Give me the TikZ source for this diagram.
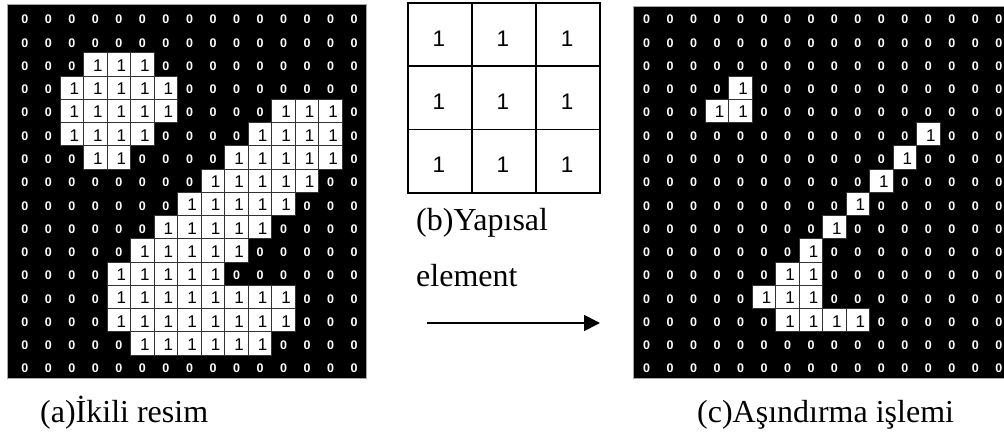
\documentclass[tikz,border=0pt]{standalone}
\usepackage{fontspec}
\setmainfont{Liberation Serif}
\newfontfamily\digitfont{Liberation Sans}
\usetikzlibrary{arrows.meta}
\begin{document}
\begin{tikzpicture}[x=1pt,y=-1pt,
  gridbg/.style={fill=black,draw=gray!70,line width=1pt},
  zerotxt/.style={text=white,font=\digitfont\bfseries\fontsize{12.5}{12.5}\selectfont,inner sep=0pt},
  onecell/.style={fill=white,draw=black!80,line width=1pt,inner sep=0pt},
  onetxt/.style={text=black,font=\digitfont\fontsize{17}{17}\selectfont,inner sep=0pt},
  capt/.style={font=\fontsize{32}{32}\selectfont,inner sep=0pt,anchor=base west},
  secell/.style={draw=black,line width=1.8pt,inner sep=0pt,minimum width=64pt,minimum height=63.3pt},
  setxt/.style={font=\digitfont\fontsize{22.5}{22.5}\selectfont,inner sep=0pt}
]
\clip (0,0) rectangle (1004,435);
% ---------- left grid (a) ----------
\node[gridbg,minimum width=359pt,minimum height=374pt,inner sep=0pt,anchor=north west] (Lbg) at (7,4) {};
\foreach \r/\vals in {
  0/{0,0,0,0,0,0,0,0,0,0,0,0,0,0,0},
  1/{0,0,0,0,0,0,0,0,0,0,0,0,0,0,0},
  2/{0,0,0,1,1,1,0,0,0,0,0,0,0,0,0},
  3/{0,0,1,1,1,1,1,0,0,0,0,0,0,0,0},
  4/{0,0,1,1,1,1,1,0,0,0,0,1,1,1,0},
  5/{0,0,1,1,1,1,0,0,0,0,1,1,1,1,0},
  6/{0,0,0,1,1,0,0,0,0,1,1,1,1,1,0},
  7/{0,0,0,0,0,0,0,0,1,1,1,1,1,0,0},
  8/{0,0,0,0,0,0,0,1,1,1,1,1,0,0,0},
  9/{0,0,0,0,0,0,1,1,1,1,1,0,0,0,0},
  10/{0,0,0,0,0,1,1,1,1,1,0,0,0,0,0},
  11/{0,0,0,0,1,1,1,1,1,0,0,0,0,0,0},
  12/{0,0,0,0,1,1,1,1,1,1,1,1,0,0,0},
  13/{0,0,0,0,1,1,1,1,1,1,1,1,0,0,0},
  14/{0,0,0,0,0,1,1,1,1,1,1,0,0,0,0},
  15/{0,0,0,0,0,0,0,0,0,0,0,0,0,0,0}}{
  \foreach \v [count=\ci from 0] in \vals {
    \ifnum\v=1
      \node[onecell,minimum width=23.53pt,minimum height=23.25pt] (L-\r-\ci) at ({13+23.53*\ci+11.77},{6.5+23.25*\r+11.6}) {};
      \node[onetxt] (LT-\r-\ci) at ([xshift=2.5pt,yshift=-1pt]L-\r-\ci.center) {1};
    \else
      \node[zerotxt] (LZ-\r-\ci) at ({13+23.53*\ci+11.77},{6.5+23.25*\r+13.2}) {0};
    \fi
  }
}
% ---------- right grid (c) ----------
\node[gridbg,minimum width=380pt,minimum height=372pt,inner sep=0pt,anchor=north west] (Rbg) at (633,6) {};
\foreach \r/\vals in {
  0/{0,0,0,0,0,0,0,0,0,0,0,0,0,0,0,0},
  1/{0,0,0,0,0,0,0,0,0,0,0,0,0,0,0,0},
  2/{0,0,0,0,0,0,0,0,0,0,0,0,0,0,0,0},
  3/{0,0,0,0,1,0,0,0,0,0,0,0,0,0,0,0},
  4/{0,0,0,1,1,0,0,0,0,0,0,0,0,0,0,0},
  5/{0,0,0,0,0,0,0,0,0,0,0,0,1,0,0,0},
  6/{0,0,0,0,0,0,0,0,0,0,0,1,0,0,0,0},
  7/{0,0,0,0,0,0,0,0,0,0,1,0,0,0,0,0},
  8/{0,0,0,0,0,0,0,0,0,1,0,0,0,0,0,0},
  9/{0,0,0,0,0,0,0,0,1,0,0,0,0,0,0,0},
  10/{0,0,0,0,0,0,0,1,0,0,0,0,0,0,0,0},
  11/{0,0,0,0,0,0,1,1,0,0,0,0,0,0,0,0},
  12/{0,0,0,0,0,1,1,1,0,0,0,0,0,0,0,0},
  13/{0,0,0,0,0,0,1,1,1,1,0,0,0,0,0,0},
  14/{0,0,0,0,0,0,0,0,0,0,0,0,0,0,0,0},
  15/{0,0,0,0,0,0,0,0,0,0,0,0,0,0,0,0}}{
  \foreach \v [count=\ci from 0] in \vals {
    \ifnum\v=1
      \node[onecell,minimum width=23.47pt,minimum height=23.25pt] (R-\r-\ci) at ({635+23.47*\ci+11.7},{6.5+23.25*\r+11.6}) {};
      \node[onetxt] (RT-\r-\ci) at ([xshift=2.5pt,yshift=-1pt]R-\r-\ci.center) {1};
    \else
      \node[zerotxt] (RZ-\r-\ci) at ({635+23.47*\ci+11.7},{6.5+23.25*\r+13.2}) {0};
    \fi
  }
}
% ---------- structuring element (b) ----------
\foreach \r in {0,1,2}{
  \foreach \c in {0,1,2}{
    \node[secell] (S-\r-\c) at ({408+64*\c+32},{3+63.3*\r+31.65}) {};
    \node[setxt] (ST-\r-\c) at ([xshift=-1pt,yshift=-4pt]S-\r-\c.center) {1};
  }
}
\node[capt] (capb) at (416,231) {(b)Yapısal};
\node[capt] (cape) at (416,287) {element};
\coordinate (arrS) at (427,323);
\coordinate (arrE) at (600,323);
\draw[line width=1.8pt,-{Triangle[length=16pt,width=16pt]}] (arrS) -- (arrE);
% ---------- captions ----------
\node[capt] (capa) at (40,423) {(a)İkili resim};
\node[capt] (capc) at (697,423) {(c)Aşındırma işlemi};
\end{tikzpicture}
\end{document}
